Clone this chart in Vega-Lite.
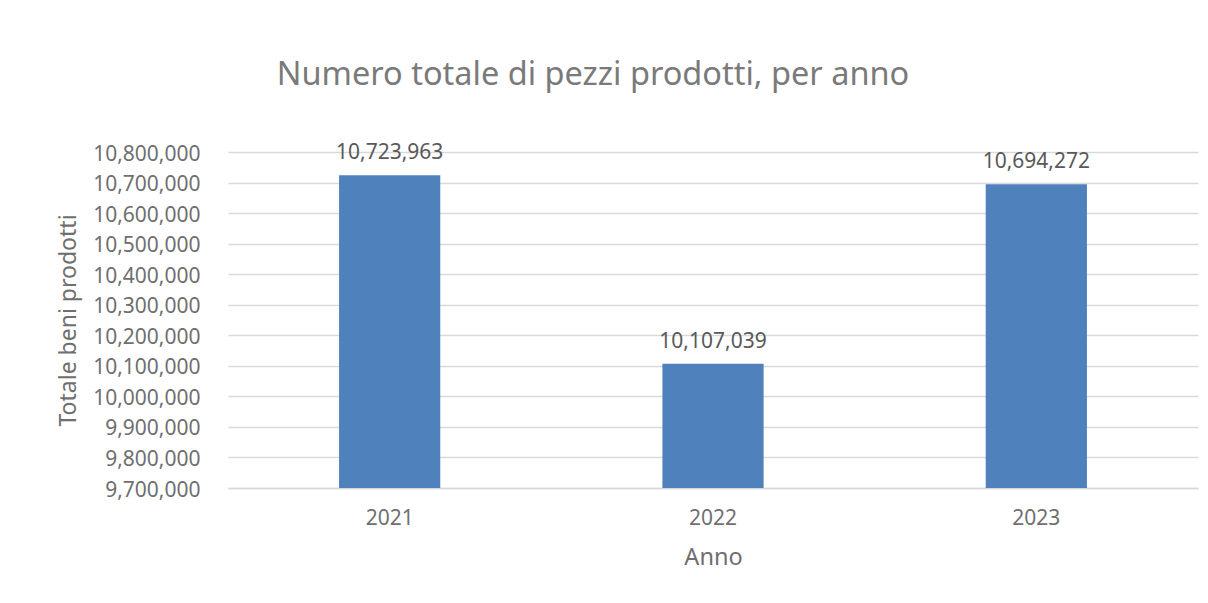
{
  "$schema": "https://vega.github.io/schema/vega-lite/v6.json",
  "width": 970,
  "height": 336,
  "autosize": {"type": "none"},
  "padding": {"left": 228, "top": 152, "right": 10, "bottom": 115},
  "background": "white",
  "title": {
    "text": "Numero totale di pezzi prodotti, per anno",
    "font": "Noto Sans",
    "fontSize": 32.5,
    "fontWeight": "normal",
    "color": "#7a7a7a",
    "anchor": "middle",
    "dx": -120,
    "offset": 51
  },
  "data": {
    "values": [
      {"Anno": "2021", "Totale": 10723963},
      {"Anno": "2022", "Totale": 10107039},
      {"Anno": "2023", "Totale": 10694272}
    ]
  },
  "encoding": {
    "x": {
      "field": "Anno",
      "type": "ordinal",
      "scale": {"paddingInner": 0.687, "paddingOuter": 0.3435},
      "axis": {
        "title": "Anno",
        "labelAngle": 0,
        "labelFont": "Noto Sans",
        "labelFontSize": 21,
        "labelColor": "#6f6f6f",
        "labelPadding": 19,
        "ticks": false,
        "domainColor": "#d9d9d9",
        "domainWidth": 1.5,
        "titleFont": "Noto Sans",
        "titleFontSize": 23.5,
        "titleFontWeight": "normal",
        "titleColor": "#6f6f6f",
        "titlePadding": 17
      }
    },
    "y": {
      "field": "Totale",
      "type": "quantitative",
      "scale": {"domain": [9700000, 10800000], "nice": false, "zero": false},
      "axis": {
        "title": "Totale beni prodotti",
        "values": [9700000, 9800000, 9900000, 10000000, 10100000, 10200000, 10300000, 10400000, 10500000, 10600000, 10700000, 10800000],
        "labelExpr": "format(datum.value, ',')",
        "labelFont": "Noto Sans",
        "labelFontSize": 21,
        "labelColor": "#6f6f6f",
        "labelPadding": 28,
        "labelOffset": 2,
        "ticks": false,
        "domain": false,
        "gridColor": "#d9d9d9",
        "gridWidth": 1.5,
        "titleFont": "Noto Sans",
        "titleFontSize": 23,
        "titleFontWeight": "normal",
        "titleColor": "#6f6f6f",
        "titlePadding": 12
      }
    }
  },
  "layer": [
    {
      "mark": {"type": "bar", "color": "#4F81BD"},
      "encoding": {"y2": {"datum": 9700000}}
    },
    {
      "mark": {"type": "text", "baseline": "bottom", "dy": -12, "font": "Noto Sans", "fontSize": 21, "color": "#595959"},
      "encoding": {"text": {"field": "Totale", "type": "quantitative", "format": ","}}
    }
  ],
  "config": {"view": {"stroke": null}}
}
